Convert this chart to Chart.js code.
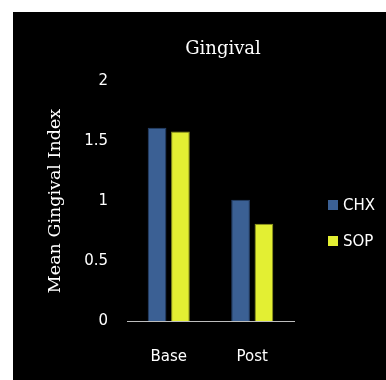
<!DOCTYPE html>
<html>
<head>
<meta charset="utf-8">
<script src="https://cdn.jsdelivr.net/npm/chart.js@4"></script>
<style>
    html, body { margin: 0; padding: 0; background: #ffffff; }
    #panel {
        position: absolute;
        left: 13px;
        top: 12px;
        width: 373px;
        height: 368px;
        background: #000000;
    }
</style>
</head>
<body>
<div id="panel"><canvas id="gingivalChart" width="373" height="368"></canvas></div>
<script>
const categories = ['Base', 'Post'];
const chxValues = [1.61, 1.01];
const sopValues = [1.58, 0.81];
const seriesNames = ['CHX', 'SOP'];
const yTicks = [0, 0.5, 1, 1.5, 2];
const chartTitle = 'Gingival';

// title and legend drawn by hand: title sits over the plot, legend to the right
const headings = {
    id: 'headings',
    afterDraw(chart) {
        const ctx = chart.ctx;
        ctx.save();
        ctx.fillStyle = '#ffffff';
        ctx.font = '18px "DejaVu Serif"';
        ctx.textAlign = 'center';
        ctx.textBaseline = 'alphabetic';
        ctx.fillText(chartTitle, 210, 42);

        ctx.font = '15px "DejaVu Sans"';
        ctx.textAlign = 'left';
        ctx.textBaseline = 'middle';
        chart.data.datasets.forEach((ds, i) => {
            const y = 193 + i * 36;
            ctx.fillStyle = ds.backgroundColor;
            ctx.fillRect(315, y - 5, 10, 10);
            ctx.fillStyle = '#ffffff';
            ctx.fillText(ds.label, 330, y + 1);
        });
        ctx.restore();
    }
};

const ctx = document.getElementById('gingivalChart').getContext('2d');
new Chart(ctx, {
    type: 'bar',
    data: {
        labels: categories,
        datasets: [{
            label: seriesNames[0],
            data: chxValues,
            backgroundColor: '#3b6094',
            borderColor: '#26406a',
            borderWidth: 1
        }, {
            label: seriesNames[1],
            data: sopValues,
            backgroundColor: '#e3ef33',
            borderColor: '#8e9520',
            borderWidth: 1
        }]
    },
    options: {
        responsive: false,
        animation: false,
        categoryPercentage: 0.56,
        barPercentage: 0.8,
        layout: {
            padding: { left: 30, right: 92, top: 69, bottom: 0 }
        },
        plugins: {
            legend: { display: false },
            tooltip: { enabled: false },
            title: { display: false }
        },
        scales: {
            x: {
                grid: { display: false, drawTicks: false },
                border: { display: true, color: '#bdbdbd', width: 1 },
                ticks: {
                    color: '#ffffff',
                    font: { family: '"DejaVu Sans"', size: 15 },
                    padding: 27
                },
                afterFit: axis => { axis.height = 59; }
            },
            y: {
                min: 0,
                max: 2,
                afterBuildTicks: axis => {
                    axis.ticks = yTicks.map(v => ({ value: v }));
                },
                grid: { display: false, drawTicks: false },
                border: { display: false },
                ticks: {
                    color: '#ffffff',
                    font: { family: '"DejaVu Sans"', size: 15 },
                    padding: 19,
                    callback: value => String(value)
                },
                title: {
                    display: true,
                    text: 'Mean Gingival Index',
                    color: '#ffffff',
                    font: { family: '"DejaVu Serif"', size: 17.5, weight: 'normal' },
                    padding: { top: 2, bottom: 0 }
                },
                afterFit: axis => { axis.width = 84; }
            }
        }
    },
    plugins: [headings]
});
</script>
</body>
</html>
